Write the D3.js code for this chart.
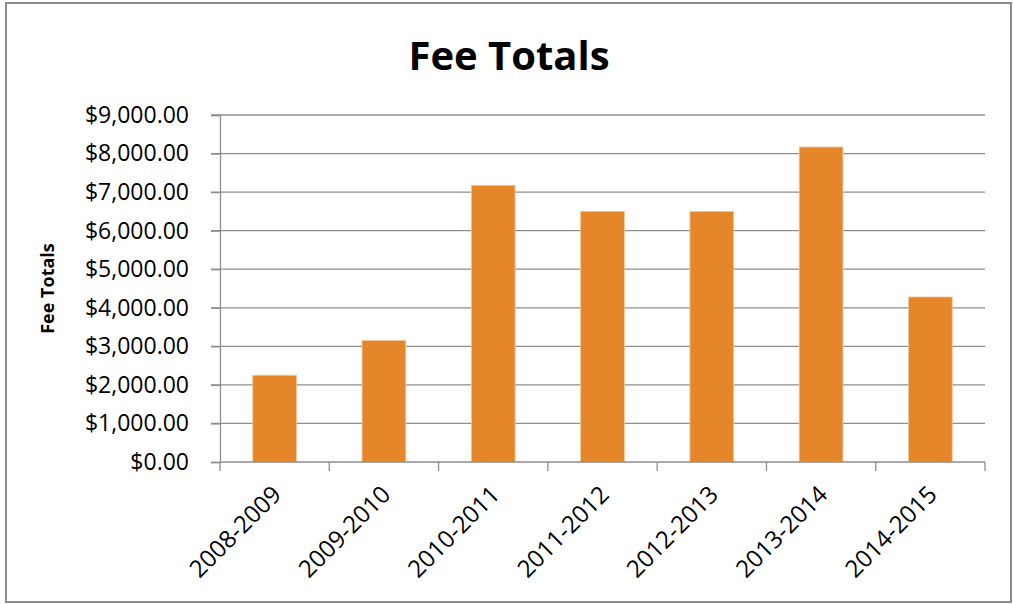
<!DOCTYPE html>
<html>
<head>
<meta charset="utf-8">
<script src="https://cdn.jsdelivr.net/npm/d3@7"></script>
<style>
  body { margin: 0; background: #fff; }
  text { font-family: "Open Sans", sans-serif; fill: #000; }
</style>
</head>
<body>
<div id="chart"></div>
<script>
// data
const seasons = ["2008-2009", "2009-2010", "2010-2011", "2011-2012", "2012-2013", "2013-2014", "2014-2015"];
const feeTotals = [2250, 3150, 7175, 6500, 6500, 8170, 4280];
const yTicks = [0, 1000, 2000, 3000, 4000, 5000, 6000, 7000, 8000, 9000];

const W = 1013, H = 604;
const m = {top: 115, left: 220, right: 28, bottom: 142};
const width = W - m.left - m.right;
const height = H - m.top - m.bottom;

const svg = d3.select("#chart").append("svg")
  .attr("width", W)
  .attr("height", H);

// chart frame
svg.append("rect")
  .attr("x", 6).attr("y", 3)
  .attr("width", 1005).attr("height", 599)
  .attr("fill", "#fff")
  .attr("stroke", "#8c8c8c")
  .attr("stroke-width", 2);

const g = svg.append("g").attr("transform", `translate(${m.left},${m.top})`);

const x = d3.scaleBand().domain(seasons).range([0, width]);
const y = d3.scaleLinear().domain([0, 9000]).range([height, 0]);

const fmt = d => "$" + d3.format(",.2f")(d);

// gridlines
g.append("g")
  .selectAll("line")
  .data(yTicks.filter(d => d > 0))
  .enter()
  .append("line")
    .attr("x1", -9).attr("x2", width)
    .attr("y1", d => y(d)).attr("y2", d => y(d))
    .attr("stroke", "#8e8e8e")
    .attr("stroke-width", 1.3);

// y axis
const yAxis = d3.axisLeft(y).tickValues(yTicks).tickFormat(fmt).tickSize(9).tickPadding(22);
const yg = g.append("g").call(yAxis);
yg.select(".domain").attr("stroke", "#8e8e8e").attr("stroke-width", 1.3);
yg.selectAll(".tick line").attr("stroke", "#8e8e8e").attr("stroke-width", 1.3);
yg.selectAll(".tick text")
  .style("font-family", "'Open Sans', sans-serif")
  .style("font-size", "23px")
  .attr("fill", "#000");

// bars
const barW = x.bandwidth() / 2.5;
g.selectAll("rect.bar")
  .data(feeTotals)
  .enter()
  .append("rect")
    .attr("class", "bar")
    .attr("x", (d, i) => x(seasons[i]) + (x.bandwidth() - barW) / 2)
    .attr("width", barW)
    .attr("y", d => y(d))
    .attr("height", d => height - y(d))
    .attr("fill", "#e6862a")
    .attr("stroke", "#f3c595")
    .attr("stroke-width", 0.8);

// x axis
const xTicksG = g.append("g").attr("transform", `translate(0,${height})`);
xTicksG.append("line")
  .attr("x1", 0).attr("x2", width)
  .attr("stroke", "#8e8e8e").attr("stroke-width", 1.3);
xTicksG.selectAll("line.tk")
  .data(d3.range(seasons.length + 1))
  .enter()
  .append("line")
    .attr("class", "tk")
    .attr("x1", i => i * x.step()).attr("x2", i => i * x.step())
    .attr("y1", 0).attr("y2", 9)
    .attr("stroke", "#8e8e8e").attr("stroke-width", 1.3);
xTicksG.selectAll("text")
  .data(seasons)
  .enter()
  .append("text")
    .attr("transform", d => `translate(${x(d) + x.bandwidth() / 2 + 8},${34}) rotate(-45)`)
    .attr("text-anchor", "end")
    .style("font-size", "24px")
    .text(d => d);

// titles
svg.append("text")
  .attr("x", 509).attr("y", 70)
  .attr("text-anchor", "middle")
  .style("font-size", "40px")
  .style("font-weight", "bold")
  .text("Fee Totals");

svg.append("text")
  .attr("transform", `translate(54,${m.top + height / 2}) rotate(-90)`)
  .attr("text-anchor", "middle")
  .style("font-size", "18px")
  .style("font-weight", "bold")
  .text("Fee Totals");
</script>
</body>
</html>
